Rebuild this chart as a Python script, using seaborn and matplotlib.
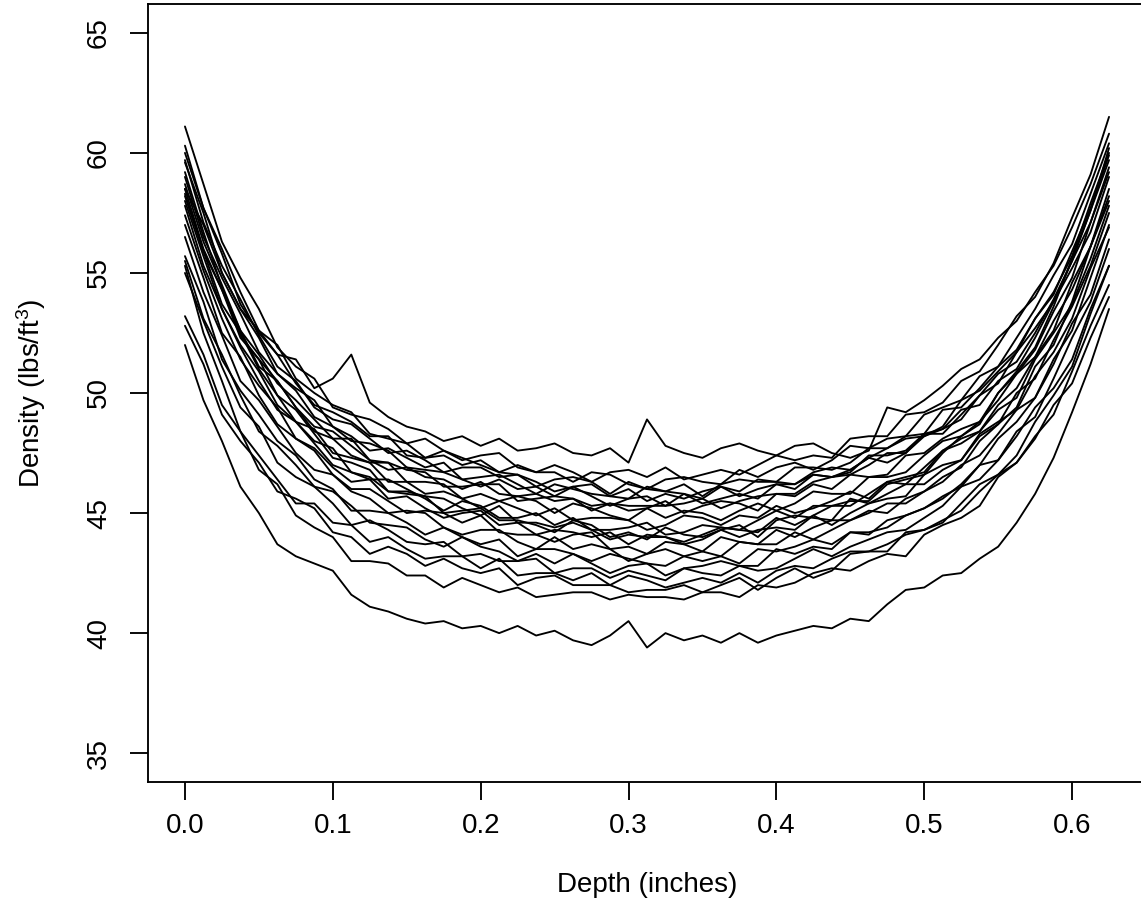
"""Vertical density profiles of 24 particle boards (R base-graphics look)."""
import matplotlib
matplotlib.use('Agg')
import matplotlib.pyplot as plt
import seaborn as sns
import pandas as pd

# depth grid (inches)
depth = [0.0, 0.0125, 0.025, 0.0375, 0.05, 0.0625, 0.075, 0.0875, 0.1, 0.1125,
         0.125, 0.1375, 0.15, 0.1625, 0.175, 0.1875, 0.2, 0.2125, 0.225, 0.2375,
         0.25, 0.2625, 0.275, 0.2875, 0.3, 0.3125, 0.325, 0.3375, 0.35, 0.3625,
         0.375, 0.3875, 0.4, 0.4125, 0.425, 0.4375, 0.45, 0.4625, 0.475, 0.4875,
         0.5, 0.5125, 0.525, 0.5375, 0.55, 0.5625, 0.575, 0.5875, 0.6, 0.6125, 0.625]

# density readings (lbs/ft^3), one list per board
board_01 = [58.5, 57.0, 55.0, 53.5, 52.6, 51.6, 51.4, 50.2, 50.6, 51.6, 49.6, 49.0, 48.6, 48.4, 48.0, 48.2,
            47.8, 48.1, 47.6, 47.7, 47.9, 47.5, 47.4, 47.7, 47.1, 48.9, 47.8, 47.5, 47.3, 47.7, 47.9, 47.6,
            47.4, 47.8, 47.9, 47.5, 47.3, 47.6, 49.4, 49.2, 49.7, 50.3, 51.0, 51.4, 52.3, 53.0, 54.2, 55.3,
            56.9, 58.7, 60.8]
board_02 = [61.1, 58.7, 56.3, 54.8, 53.5, 51.9, 51.1, 50.6, 49.4, 49.1, 48.9, 48.5, 47.9, 48.1, 47.6, 47.2,
            47.4, 47.5, 46.9, 46.7, 47.0, 46.7, 46.3, 46.7, 46.8, 46.5, 46.9, 46.4, 46.6, 46.8, 46.6, 47.0,
            47.4, 47.2, 47.4, 47.3, 48.1, 48.2, 48.2, 49.1, 49.2, 49.6, 50.5, 50.9, 52.0, 53.2, 54.0, 55.4,
            57.3, 59.1, 61.5]
board_03 = [60.3, 57.7, 56.0, 54.2, 52.6, 52.0, 50.6, 50.0, 49.5, 49.2, 48.3, 48.1, 47.9, 47.3, 47.6, 47.3,
            47.0, 46.7, 47.0, 46.7, 46.7, 46.3, 46.7, 46.6, 46.2, 46.0, 46.4, 46.5, 46.3, 46.2, 46.8, 46.5,
            46.9, 47.1, 46.8, 47.2, 47.8, 47.7, 48.1, 48.2, 49.1, 49.4, 49.7, 50.7, 51.1, 52.3, 53.5, 54.9,
            56.2, 58.3, 60.4]
board_04 = [60.0, 57.7, 55.8, 53.7, 52.5, 51.6, 50.4, 49.5, 49.2, 48.8, 48.2, 48.2, 47.4, 47.3, 47.4, 47.0,
            47.2, 46.7, 46.6, 46.1, 46.4, 46.5, 46.3, 45.8, 46.3, 46.0, 45.9, 46.2, 45.7, 46.2, 46.4, 46.3,
            46.3, 46.9, 46.9, 46.8, 47.1, 47.7, 47.7, 48.2, 48.3, 49.3, 49.4, 50.2, 51.1, 51.8, 53.1, 54.1,
            55.9, 57.7, 59.9]
board_05 = [59.7, 57.1, 55.3, 53.9, 52.4, 51.1, 50.5, 49.4, 48.9, 48.7, 48.1, 47.5, 47.6, 47.2, 46.7, 46.9,
            46.9, 46.5, 46.6, 46.3, 45.9, 46.1, 46.2, 45.7, 45.6, 46.1, 45.9, 45.8, 45.6, 46.1, 45.9, 46.4,
            46.3, 46.2, 46.7, 46.9, 46.8, 47.3, 47.7, 48.1, 48.2, 48.6, 49.7, 50.1, 50.9, 51.7, 53.1, 54.2,
            55.7, 57.9, 60.0]
board_06 = [59.6, 57.5, 55.0, 53.5, 52.3, 50.8, 50.2, 49.7, 48.6, 48.2, 47.6, 47.7, 47.3, 46.9, 47.1, 46.4,
            46.5, 46.6, 46.2, 45.8, 46.2, 46.0, 45.8, 45.7, 46.0, 45.5, 45.8, 45.6, 45.9, 46.1, 45.7, 46.0,
            46.2, 46.2, 46.6, 46.5, 46.7, 47.4, 47.4, 47.6, 48.3, 48.5, 48.9, 49.9, 50.8, 51.3, 52.5, 53.9,
            55.5, 57.1, 59.4]
board_07 = [59.0, 56.5, 54.8, 53.3, 51.7, 50.8, 50.1, 49.0, 48.6, 48.0, 47.9, 47.6, 46.9, 46.8, 46.7, 46.4,
            46.1, 46.4, 46.0, 46.1, 45.7, 46.1, 45.7, 45.3, 45.6, 45.7, 45.3, 45.8, 45.4, 45.6, 45.8, 45.6,
            46.2, 46.0, 46.6, 46.5, 46.6, 47.0, 47.5, 47.5, 48.3, 48.3, 49.1, 49.9, 50.4, 51.7, 52.7, 53.8,
            55.5, 57.6, 59.7]
board_08 = [58.7, 56.3, 54.5, 52.6, 51.6, 50.4, 49.7, 48.9, 48.1, 48.1, 47.2, 47.1, 46.8, 46.7, 46.1, 46.1,
            46.2, 46.2, 45.5, 45.6, 45.7, 45.6, 45.1, 45.4, 45.1, 45.2, 45.5, 45.0, 45.3, 45.5, 45.4, 45.1,
            45.8, 45.7, 46.2, 46.0, 46.6, 46.5, 46.6, 47.4, 47.5, 48.1, 48.5, 48.8, 49.7, 50.8, 51.5, 52.6,
            54.6, 56.1, 58.0]
board_09 = [58.5, 56.0, 54.3, 52.6, 51.1, 50.5, 49.4, 48.4, 48.1, 47.4, 47.1, 47.1, 46.3, 46.3, 46.2, 45.6,
            45.8, 45.5, 45.7, 45.5, 45.0, 45.4, 45.2, 44.9, 44.7, 45.2, 44.8, 45.1, 45.0, 44.7, 45.1, 45.4,
            45.1, 45.4, 45.9, 45.8, 45.8, 46.5, 46.5, 46.7, 47.4, 48.0, 48.2, 48.8, 50.0, 50.8, 51.8, 53.4,
            54.8, 57.1, 59.2]
board_10 = [58.2, 55.9, 53.7, 52.5, 51.0, 49.9, 48.8, 48.5, 47.5, 47.3, 47.1, 46.3, 46.3, 45.8, 45.9, 45.6,
            45.2, 45.5, 45.2, 44.9, 45.2, 44.7, 44.8, 44.8, 44.7, 44.3, 44.5, 44.9, 44.8, 44.5, 44.9, 44.8,
            45.3, 45.0, 45.2, 45.5, 45.9, 45.6, 46.3, 46.5, 46.7, 47.6, 48.1, 48.4, 49.3, 49.8, 51.4, 52.5,
            53.7, 55.6, 57.8]
board_11 = [58.0, 55.7, 53.5, 52.0, 50.9, 49.5, 48.8, 48.0, 47.7, 46.7, 46.4, 46.4, 46.0, 45.6, 45.1, 45.5,
            45.3, 44.8, 44.8, 45.0, 44.5, 44.8, 44.3, 44.3, 44.4, 44.6, 44.1, 44.2, 44.5, 44.4, 44.3, 44.7,
            45.1, 44.8, 45.3, 45.3, 45.3, 45.8, 46.3, 46.2, 46.9, 47.6, 47.9, 48.4, 49.5, 50.2, 51.5, 53.0,
            54.3, 56.1, 58.5]
board_12 = [57.8, 55.3, 53.5, 51.9, 50.5, 49.3, 48.8, 47.9, 47.0, 46.7, 46.5, 45.9, 45.8, 45.7, 45.0, 45.1,
            45.2, 44.7, 44.7, 44.5, 44.2, 44.7, 44.5, 44.0, 44.2, 43.9, 44.4, 44.1, 44.0, 44.3, 44.5, 44.0,
            44.7, 44.9, 44.8, 44.7, 45.6, 45.4, 45.8, 46.2, 46.2, 46.8, 47.2, 48.3, 48.8, 49.3, 50.7, 51.7,
            53.1, 55.2, 56.9]
board_13 = [57.4, 55.1, 53.1, 51.4, 50.3, 49.4, 48.1, 47.7, 46.9, 46.3, 46.4, 45.6, 45.7, 45.2, 44.8, 45.0,
            45.1, 44.5, 44.6, 44.1, 44.3, 44.2, 44.0, 44.2, 43.7, 44.1, 44.0, 43.7, 43.9, 44.3, 44.0, 44.3,
            44.4, 44.3, 44.9, 44.5, 45.0, 45.4, 45.6, 45.7, 46.6, 47.0, 47.2, 48.2, 48.7, 50.0, 50.6, 52.2,
            53.6, 55.3, 57.5]
board_14 = [57.0, 54.8, 52.5, 51.5, 49.9, 48.7, 48.1, 47.6, 46.6, 46.0, 46.0, 45.5, 45.0, 45.1, 45.0, 44.6,
            44.9, 44.2, 44.1, 44.1, 43.8, 44.1, 44.2, 43.5, 43.6, 43.3, 43.8, 43.7, 43.4, 44.0, 43.8, 43.7,
            44.3, 44.0, 44.4, 44.7, 44.7, 45.0, 45.4, 45.4, 45.9, 46.3, 47.0, 47.4, 48.3, 49.3, 49.8, 51.2,
            52.9, 54.1, 56.4]
board_15 = [56.5, 54.2, 52.4, 50.5, 49.7, 48.6, 47.5, 46.8, 46.6, 45.9, 45.6, 45.0, 45.1, 45.0, 44.4, 44.1,
            44.3, 44.3, 43.8, 43.5, 44.0, 43.5, 43.7, 43.5, 43.0, 43.3, 43.5, 43.2, 43.4, 43.2, 43.8, 43.7,
            43.7, 44.2, 43.9, 44.3, 44.7, 45.1, 45.0, 45.6, 45.9, 46.5, 46.9, 48.0, 48.7, 49.4, 51.1, 52.0,
            53.8, 56.1, 58.2]
board_16 = [55.7, 53.8, 51.4, 50.1, 49.1, 48.0, 47.4, 46.4, 46.0, 45.1, 45.1, 45.0, 44.6, 44.1, 44.4, 44.0,
            43.7, 43.9, 43.2, 43.5, 43.5, 43.3, 43.0, 43.3, 43.1, 42.9, 42.8, 43.2, 43.0, 43.2, 42.9, 43.5,
            43.4, 43.6, 43.9, 43.7, 44.2, 44.1, 44.7, 44.9, 45.2, 45.6, 46.2, 47.0, 47.2, 48.2, 49.4, 50.2,
            51.4, 53.5, 55.3]
board_17 = [55.5, 53.1, 51.6, 49.9, 48.4, 47.8, 47.0, 46.1, 45.9, 45.3, 44.6, 44.5, 44.4, 43.9, 43.6, 44.0,
            43.6, 43.4, 43.0, 43.3, 42.9, 43.3, 42.9, 42.5, 42.8, 42.9, 42.4, 42.7, 42.8, 43.0, 42.8, 42.8,
            43.5, 43.3, 43.6, 43.5, 44.2, 44.2, 44.4, 44.9, 45.2, 45.7, 46.1, 47.0, 48.1, 48.8, 49.8, 51.4,
            52.6, 54.8, 57.0]
board_18 = [55.0, 53.0, 51.1, 49.4, 48.6, 47.1, 46.5, 46.1, 45.4, 44.5, 44.7, 44.3, 43.8, 43.7, 43.8, 43.2,
            43.3, 43.0, 43.0, 43.1, 42.5, 42.7, 42.7, 42.3, 42.6, 42.4, 42.2, 42.7, 42.5, 42.4, 42.8, 42.6,
            42.7, 43.1, 43.5, 43.2, 43.6, 43.9, 44.2, 44.3, 44.8, 45.3, 46.1, 46.4, 47.2, 48.4, 49.0, 50.6,
            52.3, 53.8, 56.0]
board_19 = [53.2, 51.6, 49.5, 48.4, 47.4, 46.4, 45.4, 45.4, 44.6, 44.5, 43.8, 44.0, 43.5, 43.1, 43.2, 43.2,
            42.7, 43.1, 42.4, 42.5, 42.5, 42.2, 42.5, 42.0, 42.4, 42.2, 41.9, 42.1, 42.3, 42.1, 42.5, 42.1,
            42.6, 42.8, 42.7, 43.1, 43.4, 43.4, 43.7, 44.1, 44.3, 44.7, 45.1, 45.9, 46.6, 47.1, 48.1, 49.5,
            50.4, 52.3, 54.0]
board_20 = [52.8, 51.2, 49.1, 48.0, 47.1, 45.9, 45.6, 45.2, 44.2, 44.0, 43.3, 43.6, 43.3, 42.8, 43.1, 42.7,
            42.5, 42.7, 42.0, 42.3, 42.4, 42.0, 42.0, 42.0, 41.7, 41.8, 41.8, 42.0, 41.7, 42.0, 42.3, 41.8,
            42.3, 42.7, 42.3, 42.6, 43.3, 43.4, 43.4, 44.2, 44.3, 44.6, 45.4, 46.2, 46.6, 47.4, 48.8, 49.9,
            51.1, 53.3, 55.3]
board_21 = [55.3, 52.5, 50.5, 48.4, 46.8, 46.2, 44.9, 44.4, 44.0, 43.0, 43.0, 42.9, 42.4, 42.4, 41.9, 42.3,
            42.0, 41.7, 41.9, 41.5, 41.6, 41.7, 41.7, 41.4, 41.6, 41.5, 41.5, 41.4, 41.7, 41.7, 41.5, 42.0,
            41.9, 42.1, 42.5, 42.7, 42.6, 43.0, 43.3, 43.2, 44.1, 44.5, 44.8, 45.3, 46.5, 47.1, 48.2, 49.1,
            50.9, 52.8, 54.5]
board_22 = [52.0, 49.7, 48.0, 46.1, 45.0, 43.7, 43.2, 42.9, 42.6, 41.6, 41.1, 40.9, 40.6, 40.4, 40.5, 40.2,
            40.3, 40.0, 40.3, 39.9, 40.1, 39.7, 39.5, 39.9, 40.5, 39.4, 40.0, 39.7, 39.9, 39.6, 40.0, 39.6,
            39.9, 40.1, 40.3, 40.2, 40.6, 40.5, 41.2, 41.8, 41.9, 42.4, 42.5, 43.1, 43.6, 44.6, 45.8, 47.3,
            49.2, 51.2, 53.5]
board_23 = [58.3, 55.9, 54.3, 52.3, 51.4, 50.5, 49.4, 48.6, 48.4, 47.8, 47.2, 46.8, 46.9, 46.5, 46.4, 46.0,
            46.3, 45.8, 45.7, 45.8, 45.5, 45.6, 45.3, 45.4, 45.3, 45.3, 45.3, 45.4, 45.6, 45.2, 45.5, 45.7,
            45.8, 45.8, 46.3, 46.5, 46.8, 47.3, 47.1, 47.5, 48.2, 48.5, 49.3, 49.5, 50.5, 51.0, 52.3, 53.8,
            55.2, 56.7, 59.0]
board_24 = [59.2, 56.7, 54.4, 52.4, 51.4, 49.9, 49.3, 48.3, 47.3, 47.1, 46.8, 45.9, 45.9, 45.7, 45.6, 45.2,
            44.9, 45.3, 44.6, 44.6, 44.4, 44.6, 44.3, 43.9, 44.1, 44.0, 44.0, 43.8, 44.1, 44.4, 44.3, 44.2,
            44.8, 44.5, 44.9, 45.3, 45.5, 45.5, 46.2, 46.4, 46.6, 47.5, 48.2, 48.7, 50.0, 50.9, 51.9, 53.6,
            55.6, 57.6, 60.2]

boards = [board_01, board_02, board_03, board_04, board_05, board_06, board_07, board_08,
          board_09, board_10, board_11, board_12, board_13, board_14, board_15, board_16,
          board_17, board_18, board_19, board_20, board_21, board_22, board_23, board_24]

x_ticks = [0.0, 0.1, 0.2, 0.3, 0.4, 0.5, 0.6]
x_tick_labels = ['0.0', '0.1', '0.2', '0.3', '0.4', '0.5', '0.6']
y_ticks = [35, 40, 45, 50, 55, 60, 65]

# long format for seaborn
rows = []
for k, vals in enumerate(boards):
    for d, v in zip(depth, vals):
        rows.append((k + 1, d, v))
df = pd.DataFrame(rows, columns=['board', 'depth', 'density'])

sns.set_theme(style='white')
plt.rcParams['font.family'] = ['Liberation Sans', 'DejaVu Sans']
plt.rcParams['mathtext.default'] = 'regular'

W, H = 1141, 910
fig = plt.figure(figsize=(W / 100, H / 100), dpi=100)
ax = fig.add_axes([148 / W, (H - 782) / H, 998 / W, 778 / H])

sns.lineplot(data=df, x='depth', y='density', units='board', estimator=None,
             color='black', linewidth=1.35, ax=ax, legend=False)

ax.set_xlim(-0.025, 0.65)
ax.set_ylim(33.8, 66.2)
ax.set_xticks(x_ticks)
ax.set_xticklabels(x_tick_labels)
ax.set_yticks(y_ticks)
ax.set_yticklabels([str(t) for t in y_ticks], rotation=90, va='center')

for side in ['left', 'right', 'top', 'bottom']:
    ax.spines[side].set_visible(True)
    ax.spines[side].set_color('black')
    ax.spines[side].set_linewidth(1.35)

ax.tick_params(axis='both', direction='out', length=13, width=1.35, color='black',
               labelsize=20, labelcolor='black', bottom=True, left=True)
ax.tick_params(axis='x', pad=9)
ax.tick_params(axis='y', pad=13)
ax.grid(False)

ax.set_xlabel('Depth (inches)', fontsize=20, color='black', labelpad=24)
ax.set_ylabel('Density (lbs/ft$^3$)', fontsize=20, color='black', labelpad=27)

plt.savefig('out.png', dpi=100)
plt.close()
